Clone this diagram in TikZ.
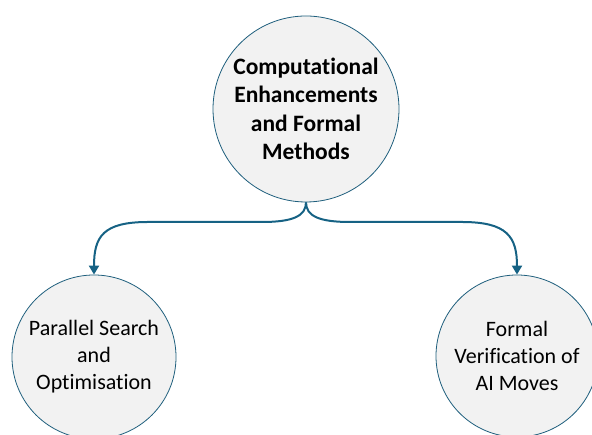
\documentclass[tikz,border=0pt]{standalone}
\usepackage{fontspec}
\setmainfont[Ligatures=NoCommon]{Carlito}
\usetikzlibrary{arrows.meta}
\definecolor{rim}{RGB}{31,95,125}
\definecolor{link}{RGB}{22,98,132}
\definecolor{disc}{RGB}{242,242,242}
\begin{document}
\begin{tikzpicture}[x=1pt, y=1pt,
    topic/.style={draw=rim, line width=0.8pt, circle, fill=disc, inner sep=0pt, align=center, font=\fontsize{22}{27}\selectfont},
    arc/.style={draw=link, line width=2pt, -{Triangle[width=10pt,length=9pt]}}]
      \useasboundingbox (0,0) rectangle (592,435);
      \clip (0,0) rectangle (592,435);

      \node[topic, minimum size=186pt, font=\fontsize{23.5}{28.5}\selectfont\bfseries] (top) at (306,326) {Computational\\Enhancements\\and Formal\\Methods};
      \node[topic, minimum size=164pt] (par) at (94,78) {Parallel Search\\and\\Optimisation};
      \node[topic, minimum size=162pt] (ver) at (517,79) {Formal\\Verification of\\AI Moves};

      \coordinate (l1) at (262,213);
      \coordinate (l2) at (148,213);
      \coordinate (r1) at (350,213);
      \coordinate (r2) at (462,213);

      \draw[arc] (top.south) .. controls ++(0,-14) and ++(30,0) .. (l1) -- (l2) .. controls ++(-45,0) and ++(0,38) .. (par.north);
      \draw[arc] (top.south) .. controls ++(0,-14) and ++(-30,0) .. (r1) -- (r2) .. controls ++(45,0) and ++(0,38) .. (ver.north);
    \end{tikzpicture}
\end{document}
